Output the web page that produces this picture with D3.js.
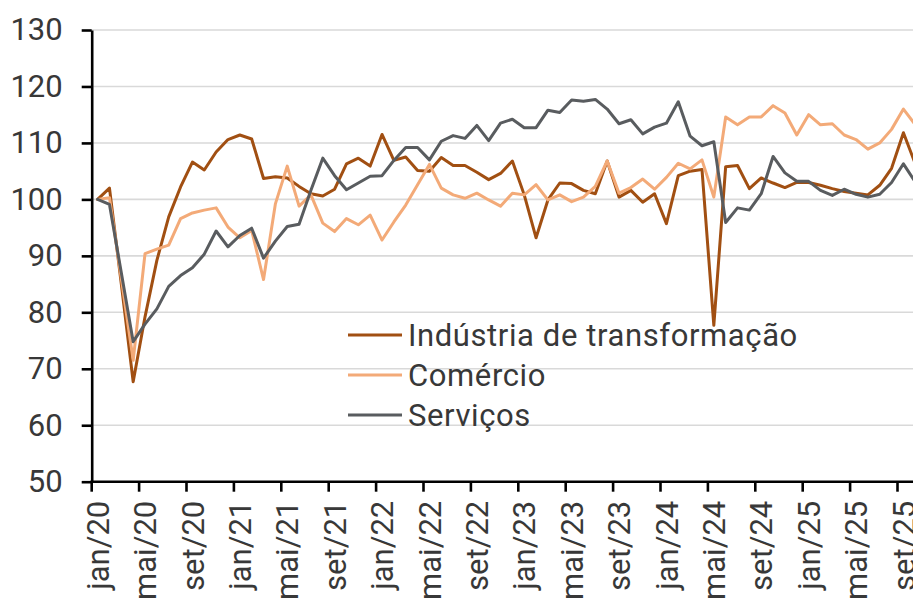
<!DOCTYPE html>
<html>
<head>
<meta charset="utf-8">
<script src="https://cdn.jsdelivr.net/npm/d3@7"></script>
<style>
  html, body { margin: 0; padding: 0; background: #ffffff; overflow: hidden; }
  svg { display: block; }
</style>
</head>
<body>
<svg id="chart" width="913" height="599"></svg>
<script>
// months, jan/20 .. out/25
const months = [
  "jan/20","fev/20","mar/20","abr/20","mai/20","jun/20","jul/20","ago/20","set/20","out/20","nov/20","dez/20",
  "jan/21","fev/21","mar/21","abr/21","mai/21","jun/21","jul/21","ago/21","set/21","out/21","nov/21","dez/21",
  "jan/22","fev/22","mar/22","abr/22","mai/22","jun/22","jul/22","ago/22","set/22","out/22","nov/22","dez/22",
  "jan/23","fev/23","mar/23","abr/23","mai/23","jun/23","jul/23","ago/23","set/23","out/23","nov/23","dez/23",
  "jan/24","fev/24","mar/24","abr/24","mai/24","jun/24","jul/24","ago/24","set/24","out/24","nov/24","dez/24",
  "jan/25","fev/25","mar/25","abr/25","mai/25","jun/25","jul/25","ago/25","set/25","out/25"
];

const industria = [
  100, 102, 85, 67.7, 79.2, 89.2, 96.9, 102.2, 106.6, 105.2, 108.4, 110.6,
  111.4, 110.7, 103.7, 104.0, 103.8, 102.3, 101.0, 100.6, 101.8, 106.3, 107.3, 105.9,
  111.5, 106.9, 107.5, 105.1, 105.0, 107.4, 106.0, 106.0, 104.8, 103.5, 104.6, 106.8,
  100.8, 93.2, 99.9, 102.9, 102.8, 101.6, 101.0, 106.8, 100.4, 101.6, 99.5, 101.0,
  95.7, 104.2, 105.0, 105.3, 77.7, 105.8, 106.0, 101.9, 103.8, 102.9, 102.1, 103.0,
  103.0, 102.5, 101.9, 101.4, 101.1, 100.8, 102.5, 105.5, 111.8, 106.3
];

const comercio = [
  100, 100.3, 86, 71.5, 90.4, 91.2, 91.9, 96.6, 97.6, 98.1, 98.5, 95.1,
  93.2, 94.5, 85.8, 99.2, 105.9, 98.8, 100.8, 95.8, 94.3, 96.6, 95.5, 97.2,
  92.8, 96.0, 99.0, 102.6, 106.2, 102.0, 100.8, 100.2, 101.1, 99.9, 98.8, 101.1,
  100.8, 102.6, 99.9, 100.8, 99.6, 100.4, 102.3, 106.8, 101.1, 102.1, 103.6, 101.8,
  103.9, 106.4, 105.4, 107.0, 100.4, 114.6, 113.2, 114.6, 114.6, 116.6, 115.3, 111.4,
  115.0, 113.2, 113.4, 111.4, 110.6, 108.9, 110.0, 112.4, 116.0, 113.2
];

const servicos = [
  100, 99.1, 87, 74.8, 77.9, 80.6, 84.6, 86.5, 87.9, 90.3, 94.4, 91.6,
  93.6, 94.9, 89.6, 92.6, 95.2, 95.6, 101.6, 107.3, 104.2, 101.7, 102.9, 104.1,
  104.2, 106.9, 109.2, 109.2, 107.0, 110.3, 111.3, 110.8, 113.1, 110.4, 113.5, 114.2,
  112.7, 112.7, 115.8, 115.4, 117.6, 117.4, 117.7, 116.0, 113.4, 114.1, 111.6, 112.8,
  113.5, 117.3, 111.2, 109.5, 110.2, 95.9, 98.5, 98.1, 101.0, 107.6, 104.7, 103.2,
  103.2, 101.6, 100.7, 101.8, 100.9, 100.4, 100.9, 103.0, 106.3, 103.1
];

const seriesNames = ["Indústria de transformação", "Comércio", "Serviços"];
const seriesColors = ["#a14f12", "#f3aa78", "#595c5f"];
const yTicks = [50, 60, 70, 80, 90, 100, 110, 120, 130];

const width = 913, height = 599;
const plotLeft = 91.7, plotTop = 30, plotBottom = 481.7, step = 11.85;
const fontFamily = "Roboto, 'Noto Sans', sans-serif";
const textColor = "#383838";

let svg = d3.select("#chart");

let xScale = d3.scaleBand()
    .domain(months)
    .range([plotLeft, plotLeft + step * months.length])
    .paddingInner(0).paddingOuter(0);

let yScale = d3.scaleLinear()
    .domain([50, 130])
    .range([plotBottom, plotTop]);

let xc = function(m) { return xScale(m) + xScale.bandwidth() / 2; };

// gridlines
svg.append("g")
    .selectAll("line")
    .data(yTicks.filter(d => d > 50))
    .join("line")
    .attr("x1", plotLeft)
    .attr("x2", width)
    .attr("y1", d => yScale(d))
    .attr("y2", d => yScale(d))
    .attr("stroke", "#d9d9d9")
    .attr("stroke-width", 1.6);

// series lines (Excel order: last on top)
let allSeries = [industria, comercio, servicos];
let line = d3.line()
    .x((d, i) => xc(months[i]))
    .y(d => yScale(d));

allSeries.forEach(function(values, k) {
    svg.append("path")
        .datum(values)
        .attr("d", line)
        .attr("fill", "none")
        .attr("stroke", seriesColors[k])
        .attr("stroke-width", 3)
        .attr("stroke-linejoin", "round")
        .attr("stroke-linecap", "round");
});

// y axis
let yAxis = svg.append("g")
    .attr("transform", "translate(" + plotLeft + ",0)")
    .call(d3.axisLeft(yScale).tickValues(yTicks).tickSize(10).tickPadding(19).tickSizeOuter(0));
yAxis.select("path").attr("stroke", "#000").attr("stroke-width", 2.6);
yAxis.selectAll("line").attr("stroke", "#000").attr("stroke-width", 2.6);
yAxis.selectAll("text")
    .style("font-family", fontFamily)
    .style("font-size", "31px")
    .style("fill", textColor);

// x axis: ticks on band edges every 4 months, labels at band centres
let labelMonths = months.filter((d, i) => i % 4 === 0);
let xAxis = svg.append("g");
xAxis.append("line")
    .attr("x1", plotLeft - 1.3)
    .attr("x2", width)
    .attr("y1", plotBottom)
    .attr("y2", plotBottom)
    .attr("stroke", "#000")
    .attr("stroke-width", 2.6);
xAxis.selectAll("line.tick")
    .data(labelMonths)
    .join("line")
    .attr("class", "tick")
    .attr("x1", d => xScale(d))
    .attr("x2", d => xScale(d))
    .attr("y1", plotBottom)
    .attr("y2", plotBottom + 10)
    .attr("stroke", "#000")
    .attr("stroke-width", 2.6);
xAxis.selectAll("text")
    .data(labelMonths)
    .join("text")
    .attr("transform", d => "translate(" + xc(d) + "," + (plotBottom + 19) + ") rotate(-90)")
    .attr("dy", "0.36em")
    .attr("text-anchor", "end")
    .style("font-family", fontFamily)
    .style("font-size", "31px")
    .style("fill", textColor)
    .text(d => d);

// legend
let legend = svg.append("g").attr("transform", "translate(348,335)");
seriesNames.forEach(function(name, k) {
    let row = legend.append("g").attr("transform", "translate(0," + (k * 40) + ")");
    row.append("line")
        .attr("x1", 0).attr("x2", 54)
        .attr("y1", 0).attr("y2", 0)
        .attr("stroke", seriesColors[k])
        .attr("stroke-width", 3);
    row.append("text")
        .attr("x", 60)
        .attr("dy", "0.35em")
        .style("font-family", fontFamily)
        .style("font-size", "31px")
        .style("letter-spacing", "0.6px")
        .style("fill", textColor)
        .text(name);
});
</script>
</body>
</html>
